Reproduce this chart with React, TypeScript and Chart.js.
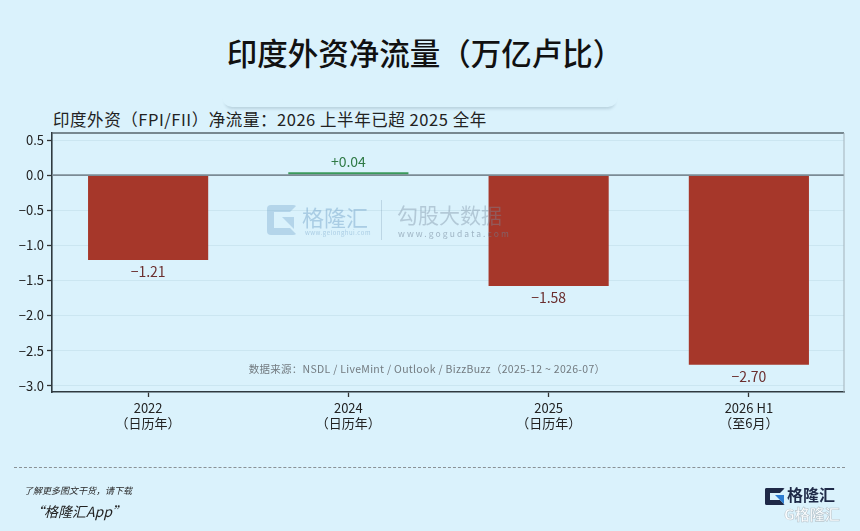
import React, { useEffect, useRef } from 'react';
import { Chart, registerables } from 'chart.js';

Chart.register(...registerables);

const categories: string[][] = [
  ['2022', '（日历年）'],
  ['2024', '（日历年）'],
  ['2025', '（日历年）'],
  ['2026 H1', '（至6月）'],
];
const values: number[] = [-1.21, 0.04, -1.58, -2.7];
const valueLabels: string[] = ['−1.21', '+0.04', '−1.58', '−2.70'];
const yTicks: number[] = [0.5, 0, -0.5, -1, -1.5, -2, -2.5, -3];
const yTickLabels: string[] = ['0.5', '0.0', '−0.5', '−1.0', '−1.5', '−2.0', '−2.5', '−3.0'];

const title = '印度外资净流量（万亿卢比）';
const subtitle = '印度外资（FPI/FII）净流量：2026 上半年已超 2025 全年';
const sourceText = '数据来源：NSDL / LiveMint / Outlook / BizzBuzz（2025-12 ~ 2026-07）';

const FONT = "'Noto Sans CJK SC', 'Noto Sans', sans-serif";
const BG = '#daf2fc';
const RED = '#a6372a';
const GREEN = '#3a9a5b';

const overlayPlugin = {
  id: 'overlay',
  afterDatasetsDraw(chart: any) {
    const { ctx, chartArea, scales } = chart;
    const y0 = scales.y.getPixelForValue(0);
    ctx.save();
    ctx.strokeStyle = '#7b8b95';
    ctx.lineWidth = 1.6;
    ctx.beginPath();
    ctx.moveTo(chartArea.left, y0);
    ctx.lineTo(chartArea.right, y0);
    ctx.stroke();
    ctx.strokeStyle = '#56646d';
    ctx.lineWidth = 1.3;
    ctx.beginPath();
    ctx.moveTo(chartArea.left, chartArea.top);
    ctx.lineTo(chartArea.right, chartArea.top);
    ctx.stroke();
    ctx.strokeStyle = '#a3b2ba';
    ctx.lineWidth = 1;
    ctx.beginPath();
    ctx.moveTo(chartArea.right, chartArea.top);
    ctx.lineTo(chartArea.right, chartArea.bottom);
    ctx.stroke();
    const meta = chart.getDatasetMeta(0);
    ctx.font = `14px ${FONT}`;
    ctx.textAlign = 'center';
    meta.data.forEach((bar: any, i: number) => {
      const v = values[i];
      if (v >= 0) {
        ctx.fillStyle = '#2f7a46';
        ctx.textBaseline = 'bottom';
        ctx.fillText(valueLabels[i], bar.x, bar.y - 4);
      } else {
        ctx.fillStyle = '#6b2e2e';
        ctx.textBaseline = 'top';
        ctx.fillText(valueLabels[i], bar.x, bar.y + 5);
      }
    });
    ctx.restore();
  },
};

export default function App() {
  const ref = useRef<HTMLCanvasElement | null>(null);

  useEffect(() => {
    document.body.style.margin = '0';
    const canvas = ref.current;
    if (!canvas) return;
    const chart = new Chart(canvas, {
      type: 'bar',
      data: {
        datasets: [
          {
            data: values.map((v, i) => ({ x: i, y: v })),
            backgroundColor: values.map((v) => (v >= 0 ? GREEN : RED)),
            borderWidth: 0,
            barPercentage: 0.6,
            categoryPercentage: 1,
          } as any,
        ],
      },
      options: {
        animation: false,
        responsive: false,
        maintainAspectRatio: false,
        layout: { padding: { top: 133, right: 16, bottom: 0, left: 0 } },
        plugins: {
          legend: { display: false },
          tooltip: { enabled: false },
          title: { display: false },
        },
        scales: {
          x: {
            type: 'linear',
            offset: false,
            min: -0.48,
            max: 3.475,
            afterBuildTicks: (s: any) => {
              s.ticks = categories.map((_, i) => ({ value: i }));
            },
            afterFit: (s: any) => {
              s.height = 139;
            },
            ticks: {
              autoSkip: false,
              maxRotation: 0,
              padding: 3,
              color: '#222',
              font: { family: FONT, size: 13 },
              callback: (_v: any, i: number) => categories[i],
            },
            grid: {
              offset: false,
              drawOnChartArea: false,
              drawTicks: true,
              tickLength: 5,
              tickColor: '#333',
              tickWidth: 1.3,
            },
            border: { display: true, color: '#2f3a40', width: 1.6 },
          },
          y: {
            min: -3.09,
            max: 0.6,
            afterBuildTicks: (s: any) => {
              s.ticks = yTicks.map((v) => ({ value: v }));
            },
            afterFit: (s: any) => {
              s.width = 52;
            },
            ticks: {
              padding: 3,
              color: '#222',
              font: { family: FONT, size: 13 },
              callback: (_v: any, i: number) => yTickLabels[i],
            },
            grid: {
              color: 'rgba(150,185,205,0.22)',
              lineWidth: 1,
              drawTicks: true,
              tickLength: 5,
              tickColor: '#333',
              tickWidth: 1.3,
            },
            border: { display: true, color: '#2f3a40', width: 1.6 },
          },
        },
      } as any,
      plugins: [overlayPlugin],
    });
    return () => chart.destroy();
  }, []);

  const abs = (s: React.CSSProperties): React.CSSProperties => ({ position: 'absolute', whiteSpace: 'nowrap', ...s });

  return (
    <div
      style={{
        position: 'fixed',
        left: 0,
        top: 0,
        width: 860,
        height: 531,
        background: BG,
        overflow: 'hidden',
        fontFamily: FONT,
      }}
    >
      <div
        style={abs({
          left: 222,
          top: -20,
          width: 396,
          height: 127,
          background: BG,
          borderRadius: 10,
          boxShadow: '0 5px 3px -3px rgba(60,90,110,0.2)',
        })}
      />
      <div
        style={abs({
          left: 0,
          width: 850,
          top: 32,
          textAlign: 'center',
          fontSize: 30.5,
          lineHeight: '40px',
          fontWeight: 500,
          color: '#111',
        })}
      >
        {title}
      </div>
      <div style={abs({ left: 53, top: 108, fontSize: 16.5, lineHeight: '22px', color: '#222', letterSpacing: 0.55 })}>{subtitle}</div>

      <canvas ref={ref} width={860} height={531} style={{ position: 'absolute', left: 0, top: 0, width: 860, height: 531 }} />

      <div style={abs({ left: 267, top: 205, width: 30, height: 30, pointerEvents: 'none' })}>
        <div style={{ position: 'absolute', inset: 0, border: '7px solid rgba(110,160,200,0.35)', borderRadius: 4, borderRightColor: 'transparent' }} />
        <div style={{ position: 'absolute', right: 3, top: 12, width: 12, height: 12, background: 'rgba(110,160,200,0.35)', clipPath: 'polygon(0 0,100% 0,100% 100%)' }} />
      </div>
      <div style={abs({ left: 302, top: 203, fontSize: 22, lineHeight: '26px', color: 'rgba(110,160,200,0.45)', pointerEvents: 'none' })}>格隆汇</div>
      <div style={abs({ left: 305, top: 229, fontSize: 6, lineHeight: '7px', color: 'rgba(110,160,200,0.45)', letterSpacing: 0.5 })}>www.gelonghui.com</div>
      <div style={abs({ left: 381, top: 200, width: 1, height: 40, background: 'rgba(120,150,175,0.3)' })} />
      <div style={abs({ left: 397, top: 201, fontSize: 21, lineHeight: '26px', color: 'rgba(120,140,160,0.4)', pointerEvents: 'none' })}>勾股大数据</div>
      <div style={abs({ left: 398, top: 228, fontSize: 8.5, lineHeight: '10px', color: 'rgba(110,130,150,0.55)', letterSpacing: 2.1 })}>www.gogudata.com</div>

      <div style={abs({ left: 0, width: 854, top: 362, textAlign: 'center', fontSize: 10.5, lineHeight: '14px', color: '#737b80', letterSpacing: 0.3 })}>{sourceText}</div>

      <div style={abs({ left: 14, top: 467, width: 831, borderTop: '1px dashed #8a9296' })} />
      <div style={abs({ left: 24, top: 485, fontSize: 9, lineHeight: '12px', fontStyle: 'italic', color: '#2a2a2a' })}>了解更多图文干货，请下载</div>
      <div style={abs({ left: 30, top: 502, fontSize: 14, lineHeight: '18px', fontStyle: 'italic', color: '#222' })}>“格隆汇App”</div>

      <div style={abs({ left: 765, top: 488, width: 20, height: 17 })}>
        <div style={{ position: 'absolute', inset: 0, border: '5px solid #1e2947', borderRightColor: 'transparent', borderRadius: 2 }} />
        <div style={{ position: 'absolute', right: 1, top: 7, width: 9, height: 9, background: '#2d7dd2', clipPath: 'polygon(0 0,100% 0,100% 100%)' }} />
      </div>
      <div style={abs({ left: 787, top: 484, fontSize: 16, lineHeight: '20px', fontWeight: 700, color: '#1e2947' })}>格隆汇</div>
      <div
        style={abs({
          left: 784,
          top: 505,
          fontSize: 15,
          lineHeight: '18px',
          fontWeight: 700,
          color: 'rgba(255,255,255,0.9)',
          WebkitTextStroke: '0.6px #b7c4cc',
        })}
      >
        G格隆汇
      </div>
    </div>
  );
}
